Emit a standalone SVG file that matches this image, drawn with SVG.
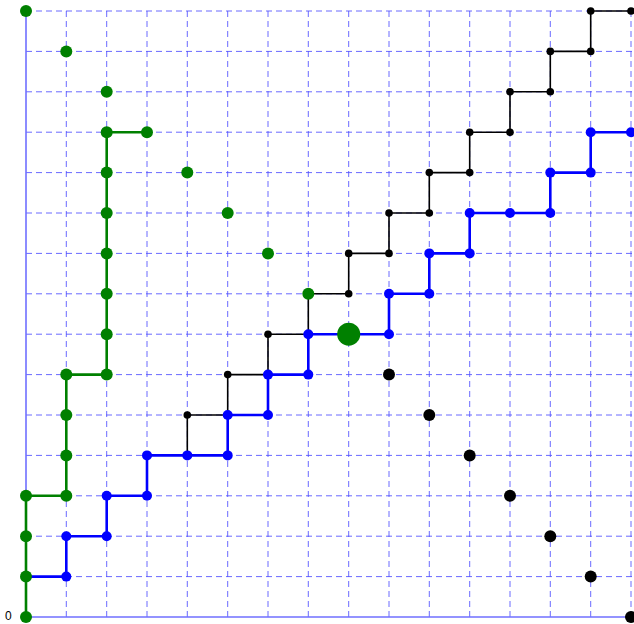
<svg xmlns="http://www.w3.org/2000/svg" width="634" height="624" viewBox="0 0 634 624">
<style>
.grid line{stroke:#5050ff;stroke-opacity:0.85;stroke-width:1;stroke-dasharray:6,4;}
.axis{stroke:#7070ff;stroke-width:1.6;fill:none;}
.pk{stroke:#000;stroke-width:1.6;fill:none;}
.pb{stroke:#0000ff;stroke-width:2.6;fill:none;}
.pg{stroke:#008000;stroke-width:2.6;fill:none;}
.dk circle{fill:#000;}
.db circle{fill:#0000ff;}
.dg circle{fill:#008000;}
</style>
<rect width="634" height="624" fill="#fff"/>
<g class="grid">
<line x1="66.3" y1="11" x2="66.3" y2="617"/>
<line x1="106.7" y1="11" x2="106.7" y2="617"/>
<line x1="147" y1="11" x2="147" y2="617"/>
<line x1="187.3" y1="11" x2="187.3" y2="617"/>
<line x1="227.7" y1="11" x2="227.7" y2="617"/>
<line x1="268" y1="11" x2="268" y2="617"/>
<line x1="308.3" y1="11" x2="308.3" y2="617"/>
<line x1="348.7" y1="11" x2="348.7" y2="617"/>
<line x1="389" y1="11" x2="389" y2="617"/>
<line x1="429.3" y1="11" x2="429.3" y2="617"/>
<line x1="469.7" y1="11" x2="469.7" y2="617"/>
<line x1="510" y1="11" x2="510" y2="617"/>
<line x1="550.3" y1="11" x2="550.3" y2="617"/>
<line x1="590.7" y1="11" x2="590.7" y2="617"/>
<line x1="631" y1="11" x2="631" y2="617"/>
<line x1="26" y1="576.6" x2="634" y2="576.6"/>
<line x1="26" y1="536.2" x2="634" y2="536.2"/>
<line x1="26" y1="495.8" x2="634" y2="495.8"/>
<line x1="26" y1="455.4" x2="634" y2="455.4"/>
<line x1="26" y1="415" x2="634" y2="415"/>
<line x1="26" y1="374.6" x2="634" y2="374.6"/>
<line x1="26" y1="334.2" x2="634" y2="334.2"/>
<line x1="26" y1="293.8" x2="634" y2="293.8"/>
<line x1="26" y1="253.4" x2="634" y2="253.4"/>
<line x1="26" y1="213" x2="634" y2="213"/>
<line x1="26" y1="172.6" x2="634" y2="172.6"/>
<line x1="26" y1="132.2" x2="634" y2="132.2"/>
<line x1="26" y1="91.8" x2="634" y2="91.8"/>
<line x1="26" y1="51.4" x2="634" y2="51.4"/>
<line x1="26" y1="11" x2="634" y2="11"/>
</g>
<g id="axes">
<path class="axis" d="M26,11 V617 H634"/>
<text x="5" y="620" font-family="Liberation Sans, Arial, sans-serif" font-size="12" fill="#000">0</text>
</g>
<g id="connectors">
<path class="pk" d="M187.3,455.4 V415 H227.7 V374.6 H268 V334.2 H308.3 V293.8 H348.7 V253.4 H389 V213 H429.3 V172.6 H469.7 V132.2 H510 V91.8 H550.3 V51.4 H590.7 V11 H631"/>
<path class="pb" d="M26,576.6 H66.3 V536.2 H106.7 V495.8 H147 V455.4 H227.7 V415 H268 V374.6 H308.3 V334.2 H389 V293.8 H429.3 V253.4 H469.7 V213 H550.3 V172.6 H590.7 V132.2 H631"/>
<path class="pg" d="M26,617 V495.8 H66.3 V374.6 H106.7 V132.2 H147"/>
</g>
<g id="black-path-nodes" class="dk">
<circle cx="187.3" cy="415" r="3.8"/>
<circle cx="227.7" cy="374.6" r="3.8"/>
<circle cx="268" cy="334.2" r="3.8"/>
<circle cx="348.7" cy="293.8" r="3.8"/>
<circle cx="348.7" cy="253.4" r="3.8"/>
<circle cx="389" cy="253.4" r="3.8"/>
<circle cx="389" cy="213" r="3.8"/>
<circle cx="429.3" cy="213" r="3.8"/>
<circle cx="429.3" cy="172.6" r="3.8"/>
<circle cx="469.7" cy="172.6" r="3.8"/>
<circle cx="469.7" cy="132.2" r="3.8"/>
<circle cx="510" cy="132.2" r="3.8"/>
<circle cx="510" cy="91.8" r="3.8"/>
<circle cx="550.3" cy="91.8" r="3.8"/>
<circle cx="550.3" cy="51.4" r="3.8"/>
<circle cx="590.7" cy="51.4" r="3.8"/>
<circle cx="590.7" cy="11" r="3.8"/>
<circle cx="631" cy="11" r="3.8"/>
</g>
<g id="black-diagonal-nodes" class="dk">
<circle cx="389" cy="374.6" r="6"/>
<circle cx="429.3" cy="415" r="6"/>
<circle cx="469.7" cy="455.4" r="6"/>
<circle cx="510" cy="495.8" r="6"/>
<circle cx="550.3" cy="536.2" r="6"/>
<circle cx="590.7" cy="576.6" r="6"/>
<circle cx="631" cy="617" r="6"/>
</g>
<g id="blue-path-nodes" class="db">
<circle cx="66.3" cy="576.6" r="5"/>
<circle cx="66.3" cy="536.2" r="5"/>
<circle cx="106.7" cy="536.2" r="5"/>
<circle cx="106.7" cy="495.8" r="5"/>
<circle cx="147" cy="495.8" r="5"/>
<circle cx="147" cy="455.4" r="5"/>
<circle cx="187.3" cy="455.4" r="5"/>
<circle cx="227.7" cy="455.4" r="5"/>
<circle cx="227.7" cy="415" r="5"/>
<circle cx="268" cy="415" r="5"/>
<circle cx="268" cy="374.6" r="5"/>
<circle cx="308.3" cy="374.6" r="5"/>
<circle cx="308.3" cy="334.2" r="5"/>
<circle cx="389" cy="334.2" r="5"/>
<circle cx="389" cy="293.8" r="5"/>
<circle cx="429.3" cy="293.8" r="5"/>
<circle cx="429.3" cy="253.4" r="5"/>
<circle cx="469.7" cy="253.4" r="5"/>
<circle cx="469.7" cy="213" r="5"/>
<circle cx="510" cy="213" r="5"/>
<circle cx="550.3" cy="213" r="5"/>
<circle cx="550.3" cy="172.6" r="5"/>
<circle cx="590.7" cy="172.6" r="5"/>
<circle cx="590.7" cy="132.2" r="5"/>
<circle cx="631" cy="132.2" r="5"/>
</g>
<g id="green-path-nodes" class="dg">
<circle cx="26" cy="617" r="6"/>
<circle cx="26" cy="576.6" r="6"/>
<circle cx="26" cy="536.2" r="6"/>
<circle cx="26" cy="495.8" r="6"/>
<circle cx="66.3" cy="495.8" r="6"/>
<circle cx="66.3" cy="455.4" r="6"/>
<circle cx="66.3" cy="415" r="6"/>
<circle cx="66.3" cy="374.6" r="6"/>
<circle cx="106.7" cy="374.6" r="6"/>
<circle cx="106.7" cy="334.2" r="6"/>
<circle cx="106.7" cy="293.8" r="6"/>
<circle cx="106.7" cy="253.4" r="6"/>
<circle cx="106.7" cy="213" r="6"/>
<circle cx="106.7" cy="172.6" r="6"/>
<circle cx="106.7" cy="132.2" r="6"/>
<circle cx="147" cy="132.2" r="6"/>
</g>
<g id="green-diagonal-nodes" class="dg">
<circle cx="26" cy="11" r="6"/>
<circle cx="66.3" cy="51.4" r="6"/>
<circle cx="106.7" cy="91.8" r="6"/>
<circle cx="187.3" cy="172.6" r="6"/>
<circle cx="227.7" cy="213" r="6"/>
<circle cx="268" cy="253.4" r="6"/>
<circle cx="308.3" cy="293.8" r="6"/>
<circle id="center" cx="348.7" cy="334.2" r="11.5"/>
</g>
</svg>
